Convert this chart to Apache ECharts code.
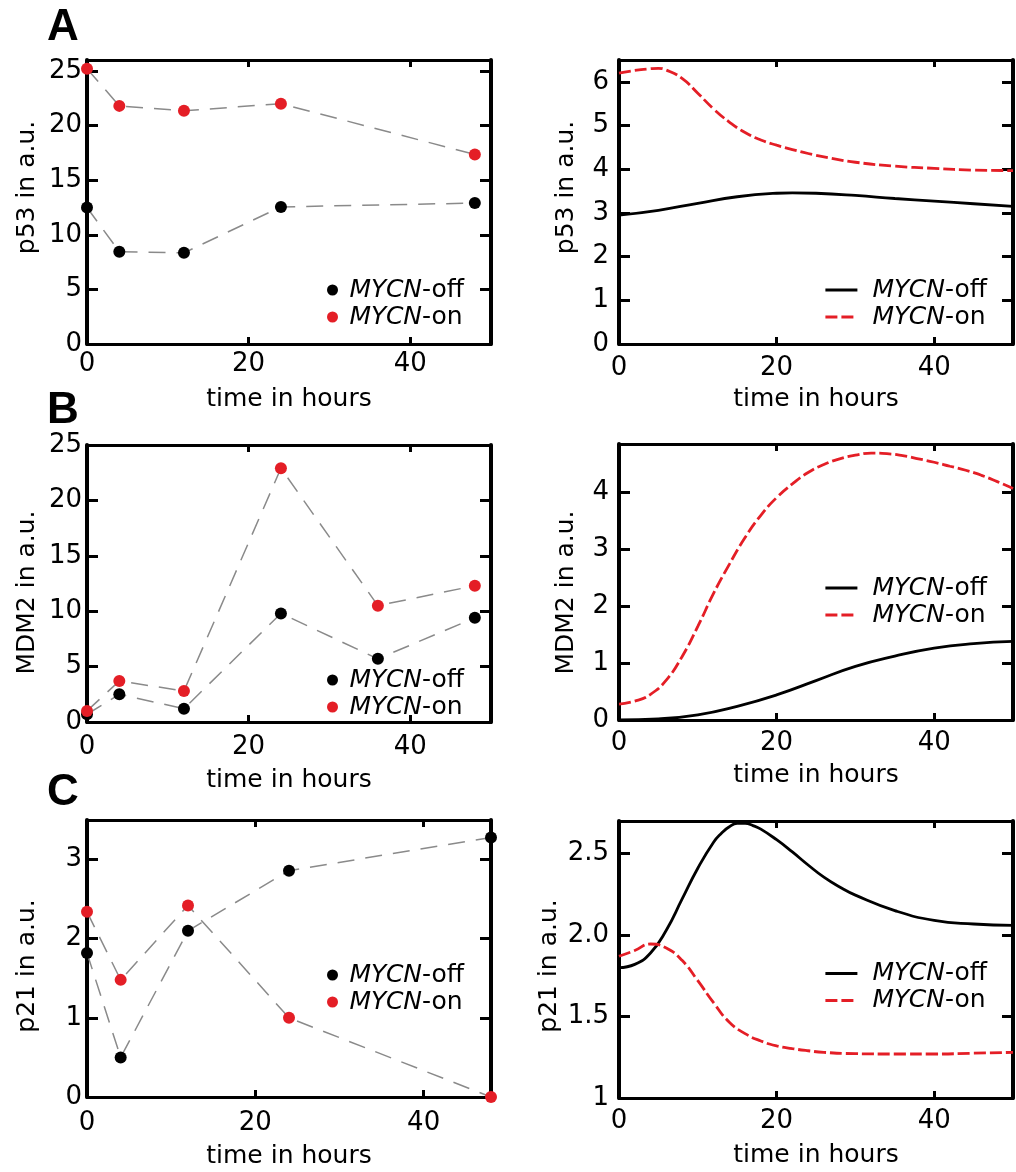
<!DOCTYPE html>
<html><head><meta charset="utf-8">
<script src="https://cdn.jsdelivr.net/npm/echarts@6/dist/echarts.min.js"></script>
<style>html,body{margin:0;padding:0;background:#fff;}#c{width:1016px;height:1172px;}</style>
</head><body><div id="c"></div>
<script>
// ---------------- data ----------------
const expTimesAC = [0, 4, 12, 24, 48];
const expTimesB = [0, 4, 12, 24, 36, 48];
const p53ExpOff = [12.5, 8.45, 8.35, 12.55, 12.9];
const p53ExpOn = [25.2, 21.8, 21.35, 22.0, 17.35];
const mdm2ExpOff = [0.7, 2.5, 1.2, 9.8, 5.7, 9.4];
const mdm2ExpOn = [1.0, 3.7, 2.8, 22.9, 10.5, 12.3];
const p21ExpOff = [1.82, 0.5, 2.1, 2.86, 3.28];
const p21ExpOn = [2.34, 1.48, 2.42, 1.0, 0.0];

const p53ModelOffT = [0, 5, 10, 15, 20, 22, 25, 30, 35, 40, 45, 50];
const p53ModelOff = [2.95, 3.06, 3.22, 3.37, 3.45, 3.46, 3.45, 3.40, 3.33, 3.27, 3.21, 3.15];
const p53ModelOnT = [0, 2, 4, 5, 6, 8, 10, 12, 14, 16, 18, 20, 22, 24, 27, 30, 35, 40, 45, 50];
const p53ModelOn = [6.2, 6.26, 6.3, 6.31, 6.27, 6.08, 5.74, 5.38, 5.08, 4.84, 4.67, 4.55, 4.45, 4.36, 4.25, 4.16, 4.07, 4.02, 3.98, 3.97];

const mdm2ModelOffT = [0, 5, 10, 15, 20, 25, 30, 35, 40, 45, 50];
const mdm2ModelOff = [0, 0.02, 0.09, 0.24, 0.44, 0.69, 0.94, 1.12, 1.26, 1.34, 1.38];
const mdm2ModelOnT = [0, 2, 4, 6, 8, 10, 12, 14, 16, 18, 20, 22, 24, 26, 28, 30, 32, 34, 36, 38, 40, 42, 44, 46, 48, 50];
const mdm2ModelOn = [0.28, 0.33, 0.45, 0.70, 1.11, 1.64, 2.22, 2.73, 3.20, 3.59, 3.90, 4.14, 4.34, 4.48, 4.58, 4.645, 4.68, 4.67, 4.635, 4.58, 4.52, 4.45, 4.38, 4.29, 4.18, 4.06];

const p21ModelOffT = [0, 2, 4, 6, 8, 10, 12, 13, 14, 15, 16, 17, 18, 20, 22, 24, 26, 28, 30, 35, 40, 45, 50];
const p21ModelOff = [1.80, 1.82, 1.89, 2.03, 2.22, 2.41, 2.57, 2.625, 2.665, 2.685, 2.685, 2.672, 2.65, 2.585, 2.51, 2.43, 2.355, 2.295, 2.245, 2.15, 2.09, 2.068, 2.06];
const p21ModelOnT = [0, 2, 4, 6, 8, 10, 12, 14, 16, 18, 20, 22, 24, 26, 30, 35, 40, 45, 50];
const p21ModelOn = [1.87, 1.905, 1.945, 1.92, 1.845, 1.72, 1.585, 1.465, 1.395, 1.35, 1.32, 1.303, 1.29, 1.28, 1.272, 1.27, 1.27, 1.275, 1.28];

const xTickLabels = ['0', '20', '40'];
const yTicksA1 = ['0', '5', '10', '15', '20', '25'];
const yTicksB1 = ['0', '5', '10', '15', '20', '25'];
const yTicksC1 = ['0', '1', '2', '3'];
const yTicksA2 = ['0', '1', '2', '3', '4', '5', '6'];
const yTicksB2 = ['0', '1', '2', '3', '4'];
const yTicksC2 = ['1', '1.5', '2.0', '2.5'];
const yNames = ['p53 in a.u.', 'MDM2 in a.u.', 'p21 in a.u.'];
const xName = 'time in hours';
const panelLetters = ['A', 'B', 'C'];
const seriesNames = ['MYCN-off', 'MYCN-on'];

// ---------------- styling / layout ----------------
const FONT = 'DejaVu Sans';
const RED = '#e41e26';
const GRAY = '#8a8a8a';
const zip = (t, v) => t.map((x, i) => [x, v[i]]);
const pickLabel = (labels, v, min, step) => {
  const k = Math.round((v - min) / step);
  return Math.abs(v - (min + k * step)) < 1e-6 ? (labels[k] || '') : '';
};

const panels = [
  // left (experimental)
  {grid:{left:87,top:60,width:404,height:284}, xmax:50, ymin:0, ymax:26, yint:5, yt:yTicksA1, yName:yNames[0], nameGap:47, namePad:[0,0,0,29], xm:7, xng:42.6, ylm:5,
   legend:{left:327, top:277.5}},
  {grid:{left:87,top:445,width:404,height:277}, xmax:50, ymin:0, ymax:25, yint:5, yt:yTicksB1, yName:yNames[1], nameGap:47, namePad:[0,18,0,0], xm:12, xng:45.5, ylm:5,
   legend:{left:327, top:667.5}},
  {grid:{left:87,top:820,width:404,height:277}, xmax:48, ymin:0, ymax:3.5, yint:1, yt:yTicksC1, yName:yNames[2], nameGap:47, namePad:[0,15,0,0], xm:13, xng:46.5, ylm:5,
   legend:{left:327, top:962.5}},
  // right (model)
  {grid:{left:619,top:60,width:402,height:284}, xmax:50, ymin:0, ymax:6.5, yint:1, yt:yTicksA2, yName:yNames[0], nameGap:40, namePad:[0,0,0,29], xm:11, xng:42.6, ylm:10,
   legend:{left:824, top:277.5}},
  {grid:{left:619,top:444,width:402,height:276}, xmax:50, ymin:0, ymax:4.84, yint:1, yt:yTicksB2, yName:yNames[1], nameGap:40, namePad:[0,21,0,0], xm:10, xng:43.2, ylm:10,
   legend:{left:824, top:575.5}},
  {grid:{left:619,top:821,width:402,height:277}, xmax:50, ymin:1, ymax:2.7, yint:0.5, yt:yTicksC2, yName:yNames[2], nameGap:57, namePad:[0,13,0,0], xm:10, xng:44.5, ylm:10,
   legend:{left:824, top:961}}
];

const txt = {color:'#000', fontFamily:FONT, fontSize:25};
const tickTxt = {color:'#000', fontFamily:FONT, fontSize:26};
const grids = [], xAxes = [], yAxes = [], legends = [];
panels.forEach((p, i) => {
  grids.push(Object.assign({}, p.grid));
  const lineX = {onZero:false, lineStyle:{color:'#000', width:3}};
  const lineY = {onZero:false, lineStyle:{color:'#000', width:4}};
  const tickX = {inside:true, length:7, lineStyle:{color:'#000', width:3}};
  const tickY = {inside:true, length:11, lineStyle:{color:'#000', width:3}};
  xAxes.push({gridIndex:i, type:'value', position:'bottom', min:0, max:p.xmax, interval:20,
    axisLine:lineX, axisTick:tickX, splitLine:{show:false},
    axisLabel:Object.assign({margin:p.xm, showMaxLabel:true,
      formatter:v => pickLabel(xTickLabels, v, 0, 20)}, tickTxt),
    name:xName, nameLocation:'middle', nameGap:p.xng, nameTextStyle:Object.assign({}, txt)});
  xAxes.push({gridIndex:i, type:'value', position:'top', min:0, max:p.xmax, interval:20,
    axisLine:lineX, axisTick:tickX, splitLine:{show:false}, axisLabel:{show:false}});
  yAxes.push({gridIndex:i, type:'value', position:'left', min:p.ymin, max:p.ymax, interval:p.yint,
    axisLine:lineY, axisTick:tickY, splitLine:{show:false},
    axisLabel:Object.assign({margin:p.ylm, showMaxLabel:true,
      formatter:v => pickLabel(p.yt, v, p.ymin, p.yint)}, tickTxt),
    name:p.yName, nameLocation:'middle', nameGap:p.nameGap,
    nameTextStyle:Object.assign({padding:p.namePad}, txt)});
  yAxes.push({gridIndex:i, type:'value', position:'right', min:p.ymin, max:p.ymax, interval:p.yint,
    axisLine:lineY, axisTick:tickY, splitLine:{show:false}, axisLabel:{show:false}});
});

const series = [];
function expPanel(i, t, off, on) {
  const ax = {xAxisIndex:2 * i, yAxisIndex:2 * i};
  series.push(Object.assign({type:'line', data:zip(t, off), symbol:'none', silent:true,
    lineStyle:{color:GRAY, width:1.5, type:[17, 11]}, z:1}, ax));
  series.push(Object.assign({type:'line', data:zip(t, on), symbol:'none', silent:true,
    lineStyle:{color:GRAY, width:1.5, type:[17, 11]}, z:1}, ax));
  series.push(Object.assign({type:'scatter', name:seriesNames[0] + ' (data)', data:zip(t, off), symbol:'circle',
    symbolSize:12, itemStyle:{color:'#000', opacity:1}, clip:false, z:3}, ax));
  series.push(Object.assign({type:'scatter', name:seriesNames[1] + ' (data)', data:zip(t, on), symbol:'circle',
    symbolSize:12, itemStyle:{color:RED, opacity:1}, clip:false, z:4}, ax));
}
function modelPanel(i, tOff, off, tOn, on) {
  const ax = {xAxisIndex:2 * i, yAxisIndex:2 * i};
  series.push(Object.assign({type:'line', name:seriesNames[0] + ' (model)', data:zip(tOff, off), smooth:0.5,
    symbol:'none', showSymbol:false,
    lineStyle:{color:'#000', width:2.8}, itemStyle:{color:'#000'}, z:3}, ax));
  series.push(Object.assign({type:'line', name:seriesNames[1] + ' (model)', data:zip(tOn, on), smooth:0.5,
    symbol:'none', showSymbol:false,
    lineStyle:{color:RED, width:2.8, type:[12, 4]}, itemStyle:{color:RED}, z:3}, ax));
}
expPanel(0, expTimesAC, p53ExpOff, p53ExpOn);
expPanel(1, expTimesB, mdm2ExpOff, mdm2ExpOn);
expPanel(2, expTimesAC, p21ExpOff, p21ExpOn);
modelPanel(3, p53ModelOffT, p53ModelOff, p53ModelOnT, p53ModelOn);
modelPanel(4, mdm2ModelOffT, mdm2ModelOff, mdm2ModelOnT, mdm2ModelOn);
modelPanel(5, p21ModelOffT, p21ModelOff, p21ModelOnT, p21ModelOn);

const legendFmt = name => (name.indexOf('off') >= 0 ? '{i|MYCN}-off' : '{i|MYCN}-on');
const legendText = Object.assign({rich:{i:{fontStyle:'italic', fontFamily:FONT, fontSize:25, color:'#000'}}}, txt);
panels.forEach((p, i) => {
  const isExp = i < 3;
  const suffix = isExp ? ' (data)' : ' (model)';
  const lg = {
    orient:'vertical', left:p.legend.left, top:p.legend.top, padding:0,
    itemGap:2, itemWidth:isExp ? 16 : 32, itemHeight:isExp ? 11 : 14,
    selectedMode:false, formatter:legendFmt,
    textStyle:Object.assign({padding:isExp ? [0,0,0,4] : [0,0,0,10]}, legendText),
    data:seriesNames.map(n => isExp ? {name:n + suffix, icon:'circle'} : {name:n + suffix})
  };
  if (!isExp) {
    lg.itemStyle = {opacity:0, borderWidth:0};
    lg.lineStyle = {width:2.8};
  }
  legends.push(lg);
});

const letterY = [28, 411, 793];
const graphic = panelLetters.map((L, i) => ({
  type:'text', x:63, y:letterY[i],
  style:{text:L, fontFamily:'Liberation Sans', fontWeight:'bold', fontSize:44, fill:'#000',
         align:'center', verticalAlign:'middle'}
}));

const chart = echarts.init(document.getElementById('c'), null, {renderer:'canvas'});
chart.setOption({
  animation:false, backgroundColor:'#fff',
  grid:grids, xAxis:xAxes, yAxis:yAxes, series:series, legend:legends, graphic:graphic
});
</script></body></html>
